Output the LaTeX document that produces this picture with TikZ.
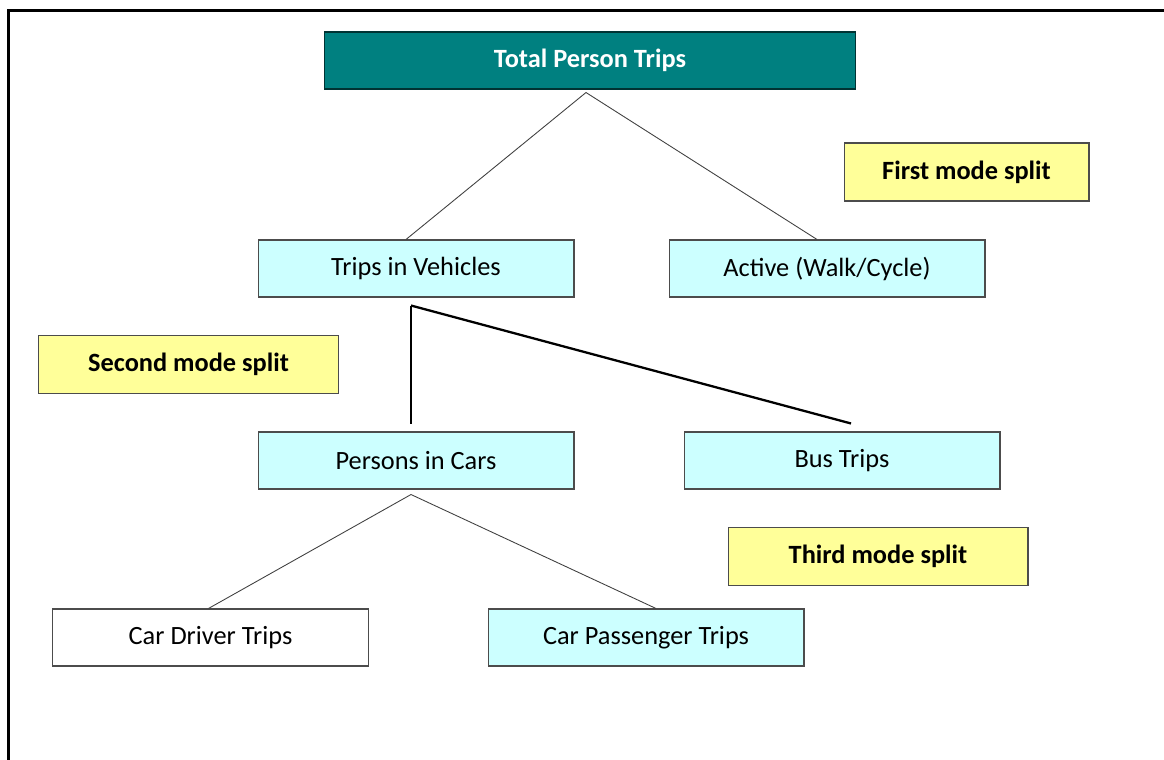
\documentclass[tikz,border=0pt]{standalone}
\usepackage{fontspec}
\setmainfont{Carlito}
\usetikzlibrary{calc}
\definecolor{tealbox}{RGB}{0,128,128}
\definecolor{cyanbox}{RGB}{204,255,255}
\definecolor{yellowbox}{RGB}{255,255,153}
\tikzset{
  topbox/.style={
    draw=tealbox!40!black, rectangle, fill=tealbox, text=white,
    inner sep=0pt, minimum width=10.64cm, minimum height=1.14cm,
    font=\fontsize{15}{18}\selectfont\bfseries, line width=0.6pt
  },
  tripbox/.style={
    draw=gray!60!black, rectangle, fill=cyanbox,
    inner sep=0pt, minimum width=6.32cm, minimum height=1.14cm,
    line width=0.6pt
  },
  splitbox/.style={
    draw=gray!60!black, rectangle, fill=yellowbox,
    inner sep=0pt, minimum height=1.16cm,
    font=\fontsize{15}{18}\selectfont\bfseries, line width=0.6pt
  },
  link/.style={draw=black!75, line width=0.5pt},
  thicklink/.style={draw=black, line width=1.3pt}
}
\begin{document}
\begin{tikzpicture}[x=0.02cm, y=-0.02cm, font=\fontsize{15}{18}\selectfont]
  \useasboundingbox (0,0) rectangle (1164,760);
  % page frame
  \draw[line width=1.6pt] (8.5,760) -- (8.5,10.5) -- (1164,10.5);

  \node[topbox] (total) at (590,60.5) {Total Person Trips};
  \node[splitbox, minimum width=4.9cm] (first) at (966.5,172) {First mode split};

  \node[tripbox] (vehicles) at (416,268.5) {Trips in Vehicles};
  \node[tripbox] (active) at (827,268.5) {Active (Walk/Cycle)};
  \node[splitbox, minimum width=6.02cm] (second) at (188.5,364.5) {Second mode split};

  \node[tripbox] (cars) at (416,460.5) {Persons in Cars};
  \node[tripbox] (bus) at (842,460.5) {Bus Trips};
  \node[splitbox, minimum width=6cm] (third) at (878,556.5) {Third mode split};

  \node[tripbox, fill=white] (driver) at (210.5,637.5) {Car Driver Trips};
  \node[tripbox] (passenger) at (646,637.5) {Car Passenger Trips};

  % split points
  \coordinate (fork1) at ($(total.south)+(-4,3)$);
  \coordinate (fork2) at ($(vehicles.south)+(-5,8)$);
  \coordinate (fork3) at ($(cars.south)+(-5,5)$);

  \draw[link] (fork1) -- ($(vehicles.north)+(-10,0)$);
  \draw[link] (fork1) -- ($(active.north)+(-10,0)$);
  \draw[thicklink] (fork2) -- ($(cars.north)+(-5,-7)$);
  \draw[thicklink] (fork2) -- ($(bus.north)+(9,-8)$);
  \draw[link] (fork3) -- ($(driver.north)+(-2,0)$);
  \draw[link] (fork3) -- ($(passenger.north)+(10,0)$);
\end{tikzpicture}
\end{document}
